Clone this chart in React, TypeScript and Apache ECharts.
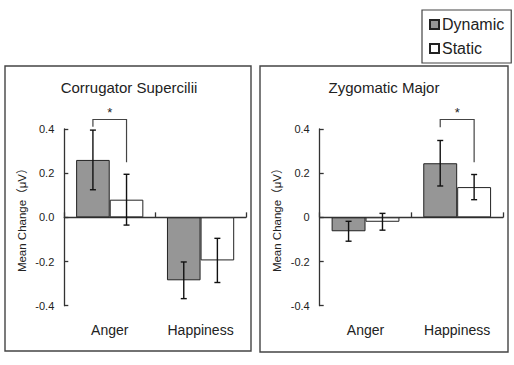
import React, { useEffect, useRef } from "react";
import * as echarts from "echarts";

const categories = ["Anger", "Happiness"];
const seriesNames = ["Dynamic", "Static"];
const panelTitles = ["Corrugator Supercilii", "Zygomatic Major"];
const yAxisName = "Mean Change（μV）";

// Corrugator Supercilii
const corrDynamic = [0.26, -0.285];
const corrDynamicErr = [0.135, 0.083];
const corrStatic = [0.08, -0.195];
const corrStaticErr = [0.115, 0.1];

// Zygomatic Major
const zygDynamic = [-0.063, 0.245];
const zygDynamicErr = [0.045, 0.103];
const zygStatic = [-0.02, 0.137];
const zygStaticErr = [0.038, 0.057];

// significance brackets: [category index, top, left leg end, right leg end]
const corrBracket = [0, 0.443, 0.41, 0.25];
const zygBracket = [1, 0.443, 0.408, 0.25];

const yMin = -0.4;
const yMax = 0.4;
const yStep = 0.2;

const GAP = 0.26;
const FONT = "'Liberation Sans', Arial, 'Noto Sans CJK JP', sans-serif";
const DARK = "#222";
const AXIS = "#333";

function errorSeries(name: string, xi: number, yi: number, means: number[], errs: number[], side: number) {
  return {
    type: "custom",
    name: name + " err",
    xAxisIndex: xi,
    yAxisIndex: yi,
    silent: true,
    z: 5,
    renderItem: (params: any, api: any) => {
      const cat = api.value(0);
      const mean = api.value(1);
      const err = api.value(2);
      const catW = api.size([1, 0])[0];
      const bw = (catW * (1 - GAP)) / 2;
      const cx = api.coord([cat, 0])[0] + (side * bw) / 2;
      const yTop = api.coord([cat, mean + err])[1];
      const yBot = api.coord([cat, mean - err])[1];
      const cap = 3;
      const style = { stroke: "#111", lineWidth: 1.4, fill: "none" };
      return {
        type: "group",
        children: [
          { type: "line", shape: { x1: cx, y1: yTop, x2: cx, y2: yBot }, style },
          { type: "line", shape: { x1: cx - cap, y1: yTop, x2: cx + cap, y2: yTop }, style },
          { type: "line", shape: { x1: cx - cap, y1: yBot, x2: cx + cap, y2: yBot }, style },
        ],
      };
    },
    data: means.map((m, i) => [i, m, errs[i]]),
  };
}

function bracketSeries(xi: number, yi: number, b: number[]) {
  return {
    type: "custom",
    name: "sig",
    xAxisIndex: xi,
    yAxisIndex: yi,
    silent: true,
    z: 6,
    renderItem: (params: any, api: any) => {
      const cat = api.value(0);
      const catW = api.size([1, 0])[0];
      const bw = (catW * (1 - GAP)) / 2;
      const c = api.coord([cat, 0])[0];
      const xl = c - bw / 2;
      const xr = c + bw / 2;
      const yt = api.coord([cat, api.value(1)])[1];
      const yl = api.coord([cat, api.value(2)])[1];
      const yr = api.coord([cat, api.value(3)])[1];
      return {
        type: "group",
        children: [
          {
            type: "polyline",
            shape: { points: [[xl, yl], [xl, yt], [xr, yt], [xr, yr]] },
            style: { stroke: "#444", lineWidth: 1.2, fill: "none" },
          },
          {
            type: "text",
            x: c,
            y: yt - 1,
            style: { text: "*", fontSize: 13, fontFamily: FONT, fill: DARK, align: "center", verticalAlign: "bottom" },
          },
        ],
      };
    },
    data: [b],
  };
}

function barSeries(name: string, xi: number, yi: number, values: number[], color: string) {
  return {
    type: "bar",
    name,
    xAxisIndex: xi,
    yAxisIndex: yi,
    barGap: "0%",
    barCategoryGap: GAP * 100 + "%",
    itemStyle: { color, borderColor: "#222", borderWidth: 1 },
    data: values,
  };
}

function yAxis(grid: number, zeroPlain: boolean) {
  return {
    type: "value",
    gridIndex: grid,
    min: yMin,
    max: yMax,
    interval: yStep,
    name: yAxisName,
    nameLocation: "middle",
    nameRotate: 90,
    nameGap: 37,
    nameTextStyle: { fontSize: 11.5, fontFamily: FONT, color: DARK },
    axisLine: { show: true, lineStyle: { color: AXIS, width: 1.3 } },
    axisTick: { show: true, inside: true, length: 4, lineStyle: { color: AXIS, width: 1.3 } },
    splitLine: { show: false },
    axisLabel: {
      fontSize: 11,
      fontFamily: FONT,
      color: DARK,
      margin: 10,
      formatter: (v: number) => (zeroPlain && Math.abs(v) < 1e-9 ? "0" : v.toFixed(1)),
    },
  };
}

function xAxes(grid: number) {
  return [
    {
      type: "category",
      gridIndex: grid,
      data: categories,
      axisLine: { show: true, onZero: true, lineStyle: { color: AXIS, width: 1.3 } },
      axisTick: { show: true, inside: true, length: 5, alignWithLabel: false, lineStyle: { color: AXIS, width: 1.3 } },
      axisLabel: { show: false },
      splitLine: { show: false },
    },
    {
      type: "category",
      gridIndex: grid,
      data: categories,
      position: "bottom",
      axisLine: { show: false, onZero: false },
      axisTick: { show: false },
      axisLabel: { show: true, fontSize: 14, fontFamily: FONT, color: DARK, margin: 17 },
      splitLine: { show: false },
    },
  ];
}

export default function App() {
  const ref = useRef<HTMLDivElement>(null);
  useEffect(() => {
    document.body.style.margin = "0";
    const chart = echarts.init(ref.current!, undefined, { renderer: "svg" });
    const titleStyle = { fontSize: 15, fontFamily: FONT, fill: DARK, align: "center", verticalAlign: "middle" };
    chart.setOption({
      animation: false,
      backgroundColor: "#fff",
      legend: {
        data: seriesNames,
        orient: "vertical",
        left: 422,
        top: 10,
        icon: "rect",
        itemWidth: 9,
        itemHeight: 9,
        itemGap: 5,
        padding: [5, 7, 5, 7],
        borderColor: "#444",
        borderWidth: 1.2,
        textStyle: { fontSize: 16, fontFamily: FONT, color: DARK, lineHeight: 19, padding: [0, 0, 0, -2] },
      },
      grid: [
        { left: 64.3, right: 268, top: 129, bottom: 59.3 },
        { left: 319.7, right: 11, top: 129, bottom: 59.3 },
      ],
      xAxis: [...xAxes(0), ...xAxes(1)],
      yAxis: [yAxis(0, false), yAxis(1, true)],
      series: [
        barSeries(seriesNames[0], 0, 0, corrDynamic, "#969696"),
        barSeries(seriesNames[1], 0, 0, corrStatic, "#ffffff"),
        barSeries(seriesNames[0], 2, 1, zygDynamic, "#969696"),
        barSeries(seriesNames[1], 2, 1, zygStatic, "#ffffff"),
        errorSeries(seriesNames[0], 0, 0, corrDynamic, corrDynamicErr, -1),
        errorSeries(seriesNames[1], 0, 0, corrStatic, corrStaticErr, 1),
        errorSeries(seriesNames[0], 2, 1, zygDynamic, zygDynamicErr, -1),
        errorSeries(seriesNames[1], 2, 1, zygStatic, zygStaticErr, 1),
        bracketSeries(0, 0, corrBracket),
        bracketSeries(2, 1, zygBracket),
      ],
      graphic: [
        { type: "rect", shape: { x: 5, y: 66, width: 246, height: 285 }, style: { fill: "none", stroke: "#444", lineWidth: 1.4 }, z: -1 },
        { type: "rect", shape: { x: 260, y: 66, width: 248, height: 286 }, style: { fill: "none", stroke: "#444", lineWidth: 1.4 }, z: -1 },
        { type: "text", x: 129, y: 87.5, style: { ...titleStyle, text: panelTitles[0] } },
        { type: "text", x: 384, y: 87.5, style: { ...titleStyle, text: panelTitles[1] } },
      ],
    });
    return () => chart.dispose();
  }, []);
  return <div ref={ref} style={{ width: 514, height: 365 }} />;
}
